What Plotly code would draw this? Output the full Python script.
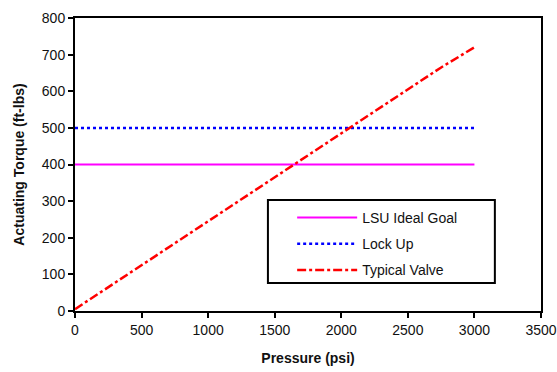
import plotly.graph_objects as go

pressure = [0, 250, 500, 750, 1000, 1250, 1500, 1750, 2000, 2250, 2500, 2750, 3000]
typical_valve = [5, 65, 125, 185, 245, 305, 365, 425, 485, 545, 605, 665, 720]
goal_x = [0, 3000]
lsu_goal = [400, 400]
lock_up = [500, 500]

fig = go.Figure()
fig.add_trace(go.Scatter(x=goal_x, y=lsu_goal, mode="lines", name="LSU Ideal Goal",
                         legendgroup="a", line=dict(color="#ff00ff", width=2)))
fig.add_trace(go.Scatter(x=goal_x, y=lock_up, mode="lines", name="Lock Up",
                         legendgroup="b", line=dict(color="#0000ff", width=2.5, dash="dot")))
fig.add_trace(go.Scatter(x=pressure, y=typical_valve, mode="lines", name="Typical Valve",
                         legendgroup="c", line=dict(color="#ff0000", width=2.5, dash="dashdot")))

FONT = "Liberation Sans, Arial"
axis_common = dict(showline=True, linecolor="black", linewidth=2, mirror=True,
                   ticks="outside", ticklen=5, tickwidth=2, tickcolor="black",
                   showgrid=False, zeroline=False, automargin=False,
                   tickfont=dict(family=FONT, size=14, color="#111"))

fig.update_layout(
    width=557, height=372,
    margin=dict(l=75, r=16, t=18, b=61, autoexpand=False),
    paper_bgcolor="white", plot_bgcolor="white",
    font=dict(family=FONT, color="#111"),
    xaxis=dict(range=[0, 3500], dtick=500,
               title=dict(text="<b>Pressure (psi)</b>", font=dict(size=14), standoff=16),
               **axis_common),
    yaxis=dict(range=[0, 800], dtick=100,
               title=dict(text="<b>Actuating Torque (ft-lbs)</b>", font=dict(size=14), standoff=14),
               **axis_common),
    legend=dict(x=0.466, y=0.372, xanchor="left", yanchor="top",
                borderwidth=0, bgcolor="rgba(0,0,0,0)",
                font=dict(size=14, family=FONT, color="#111"),
                itemwidth=60, tracegroupgap=5),
    showlegend=True,
    shapes=[dict(type="rect", xref="paper", yref="paper",
                 x0=0.414, x1=0.901, y0=0.0956, y1=0.379,
                 line=dict(color="black", width=2), fillcolor="white", layer="above")],
)

fig.write_html("out.html")
